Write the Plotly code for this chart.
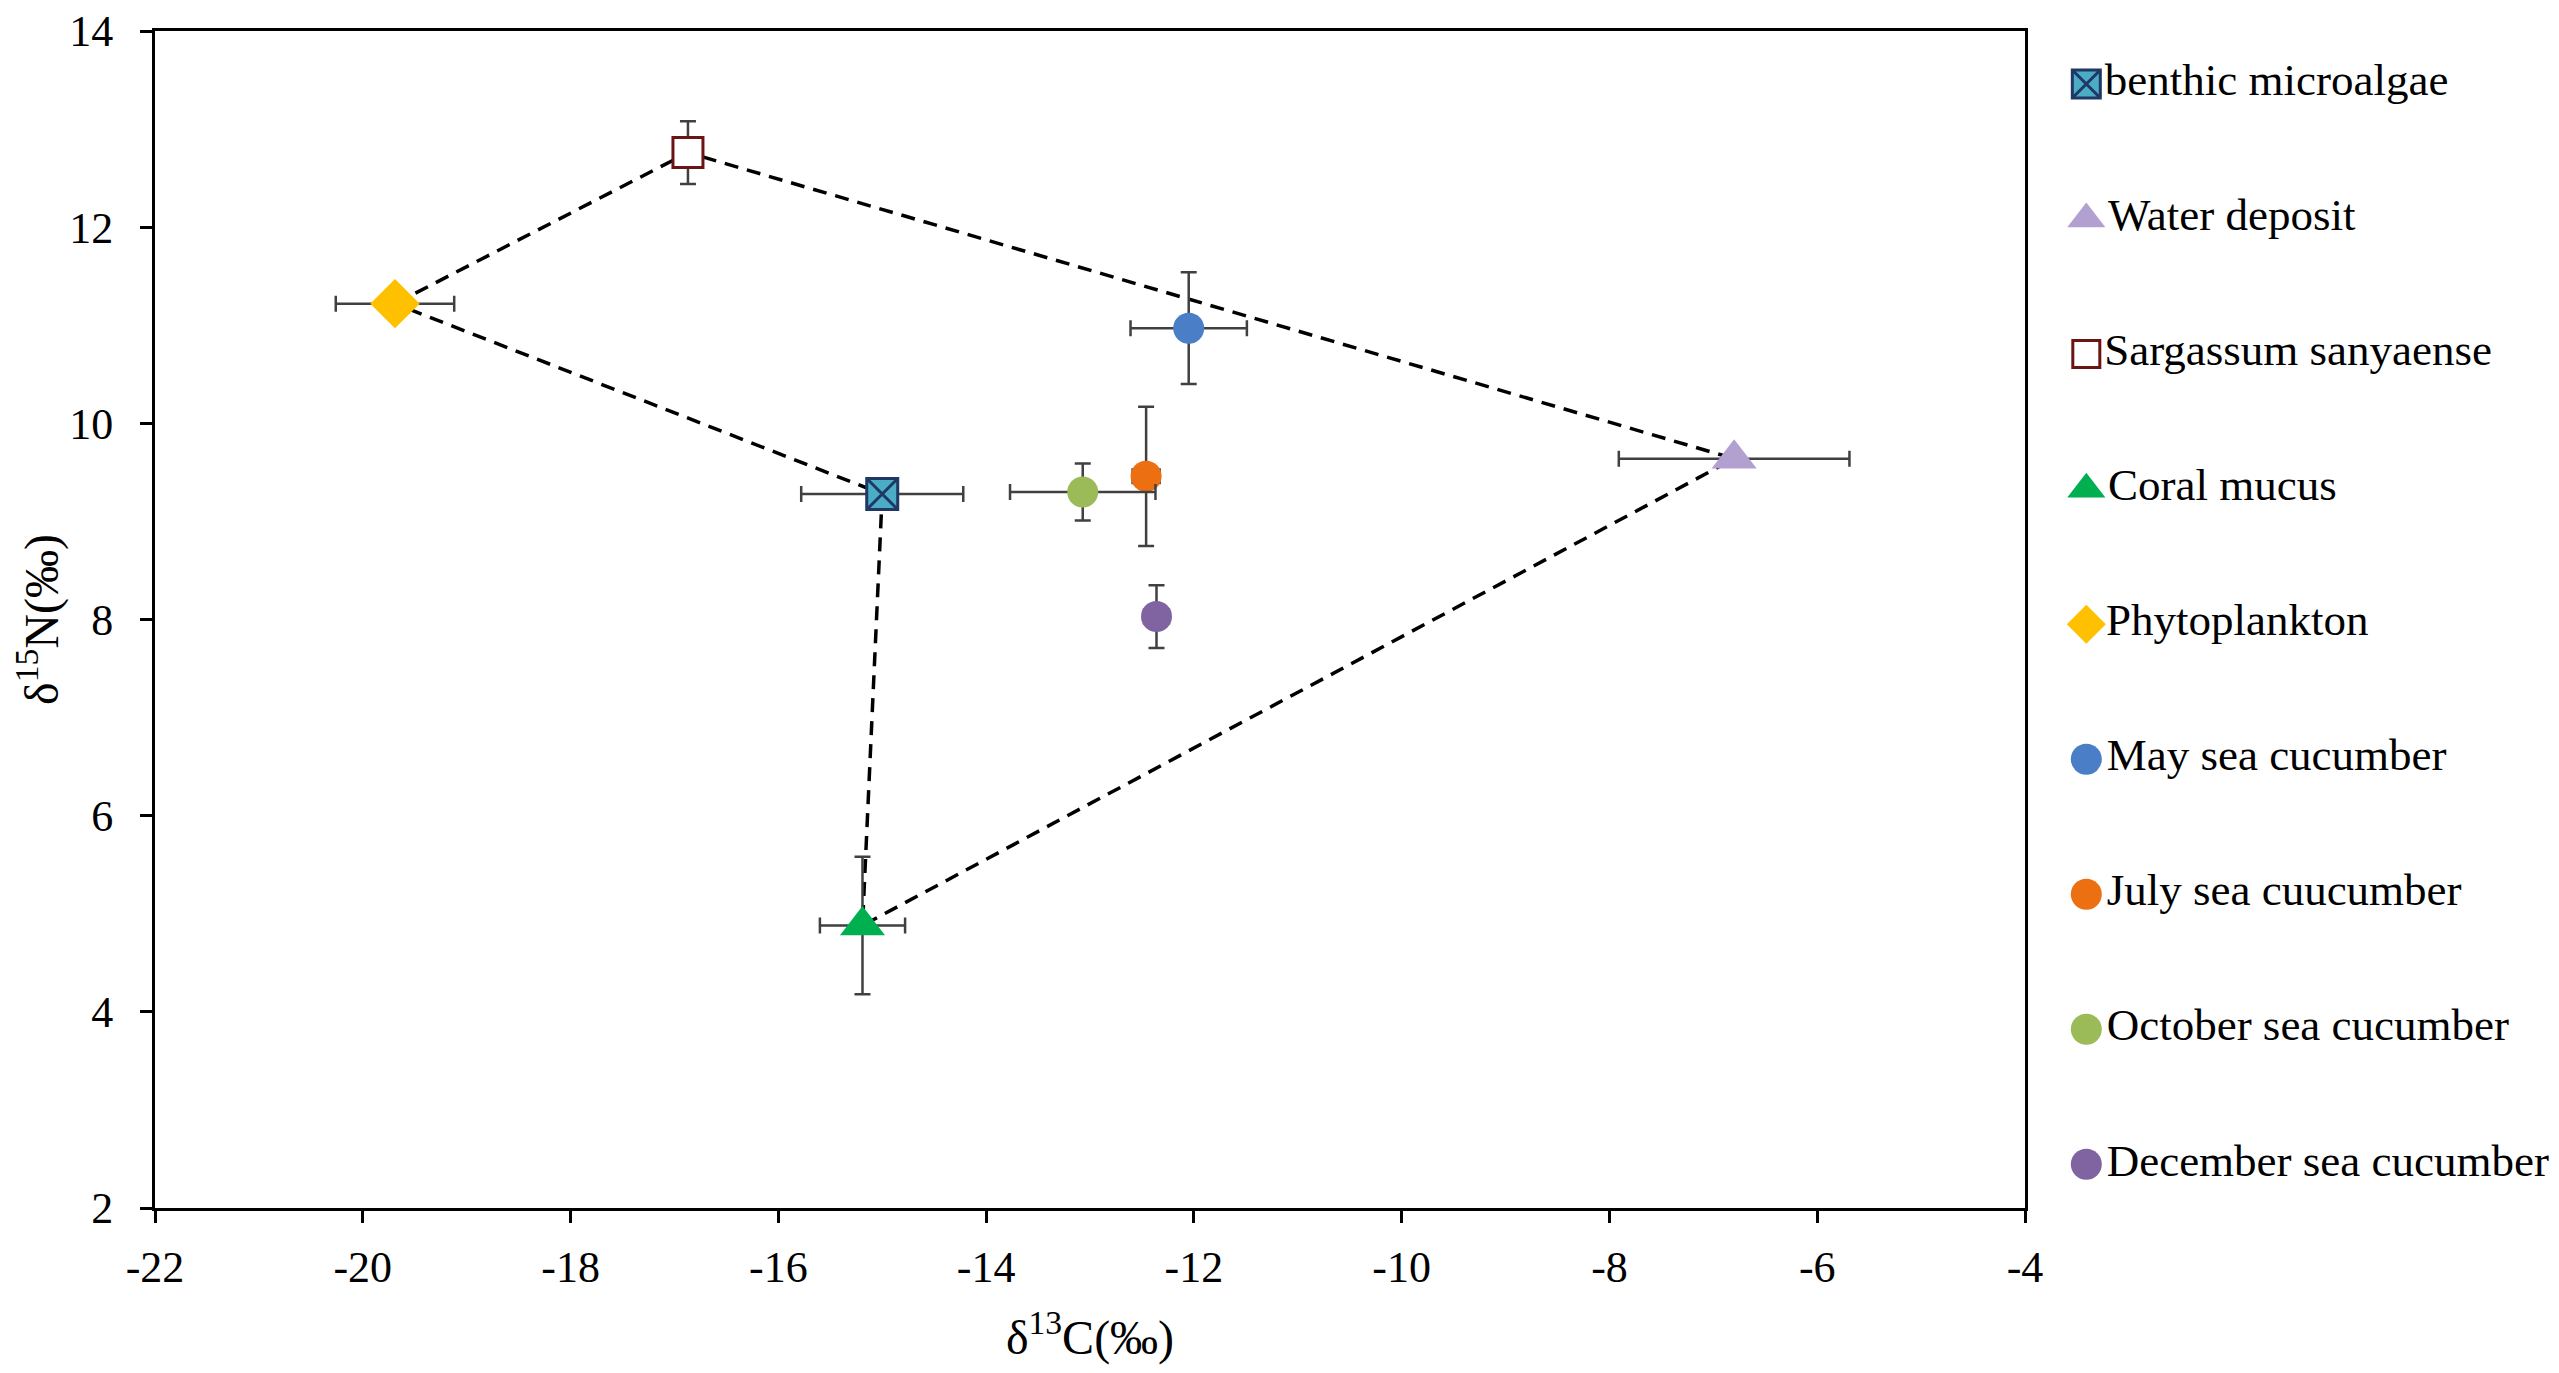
import plotly.graph_objects as go

# isotope means and standard deviations
names = ["benthic microalgae", "Water deposit", "Sargassum sanyaense", "Coral mucus",
         "Phytoplankton", "May sea cucumber", "July sea cuucumber",
         "October sea cucumber", "December sea cucumber"]
d13c = [-15.0, -6.8, -16.87, -15.19, -19.69, -12.05, -12.46, -13.07, -12.36]
d15n = [9.28, 9.64, 12.76, 4.88, 11.22, 10.97, 9.46, 9.30, 8.03]
d13c_sd = [0.78, 1.11, 0.05, 0.41, 0.57, 0.56, 0.13, 0.70, 0.12]
d15n_sd = [0.14, 0.05, 0.32, 0.70, 0.15, 0.57, 0.71, 0.29, 0.32]

# axis ticks (Excel style hyphen minus)
x_ticks = [-22, -20, -18, -16, -14, -12, -10, -8, -6, -4]
x_labels = ["-22", "-20", "-18", "-16", "-14", "-12", "-10", "-8", "-6", "-4"]
y_ticks = [2, 4, 6, 8, 10, 12, 14]
y_labels = ["2", "4", "6", "8", "10", "12", "14"]

# outline of the food sources (dashed polygon)
hull_order = ["Phytoplankton", "Sargassum sanyaense", "Water deposit",
              "Coral mucus", "benthic microalgae", "Phytoplankton"]

FONT = "Liberation Serif, Times New Roman, serif"
ERR_COLOR = "#404040"

styles = {
    "benthic microalgae": dict(symbol="square-x", size=31, color="#4BACC6",
                               line=dict(color="#1F3864", width=3)),
    "Water deposit": dict(symbol="triangle-up", size=39, color="#B1A0D0",
                          line=dict(color="#B1A0D0", width=0)),
    "Sargassum sanyaense": dict(symbol="square", size=30, color="white",
                                line=dict(color="#6B1414", width=3)),
    "Coral mucus": dict(symbol="triangle-up", size=39, color="#00B050",
                        line=dict(color="#00B050", width=0)),
    "Phytoplankton": dict(symbol="diamond", size=38, color="#FFC000",
                          line=dict(color="#FFC000", width=0)),
    "May sea cucumber": dict(symbol="circle", size=31, color="#4A7EC6",
                             line=dict(width=0)),
    "July sea cuucumber": dict(symbol="circle", size=31, color="#EC6F12",
                               line=dict(width=0)),
    "October sea cucumber": dict(symbol="circle", size=31, color="#9BBB59",
                                 line=dict(width=0)),
    "December sea cucumber": dict(symbol="circle", size=31, color="#8064A2",
                                  line=dict(width=0)),
}
# legend symbols are drawn a bit smaller than the plotted ones
legend_sizes = {"benthic microalgae": 28, "Water deposit": 33,
                "Sargassum sanyaense": 27, "Coral mucus": 33, "Phytoplankton": 30}

fig = go.Figure()

idx = [names.index(n) for n in hull_order]
fig.add_trace(go.Scatter(
    x=[d13c[i] for i in idx], y=[d15n[i] for i in idx],
    mode="lines", line=dict(color="black", width=3.5, dash="14px,9px"),
    showlegend=False, hoverinfo="skip"))

for i, name in enumerate(names):
    fig.add_trace(go.Scatter(
        x=[d13c[i]], y=[d15n[i]], name=name, mode="markers",
        marker=styles[name],
        error_x=dict(type="data", array=[d13c_sd[i]], color=ERR_COLOR,
                     thickness=2.5, width=8),
        error_y=dict(type="data", array=[d15n_sd[i]], color=ERR_COLOR,
                     thickness=2.5, width=8),
    ))

# Excel-like legend with full size markers, drawn on a helper axis pair
for i, name in enumerate(names):
    mk = dict(styles[name])
    mk["size"] = legend_sizes.get(name, mk["size"])
    fig.add_trace(go.Scatter(
        x=[0.051], y=[i], xaxis="x2", yaxis="y2",
        mode="markers+text", text=[name], textposition="middle right",
        textfont=dict(family=FONT, size=45, color="black"),
        marker=mk, cliponaxis=False, hoverinfo="skip"))

axis_common = dict(
    showline=True, linecolor="black", linewidth=3, mirror=True,
    ticks="outside", ticklen=12, tickwidth=3, tickcolor="black",
    showgrid=False, zeroline=False, ticklabeloverflow="allow",
    automargin=False,
    tickfont=dict(family=FONT, size=44, color="black"),
)

fig.update_layout(
    width=2559, height=1373,
    margin=dict(l=147, r=0, t=23, b=173),
    plot_bgcolor="white", paper_bgcolor="white",
    font=dict(family=FONT, color="black"),
    showlegend=False,
    xaxis=dict(domain=[0, 0.7753], range=[-22, -4],
               tickvals=x_ticks, ticktext=x_labels, ticklabelstandoff=6,
               title=dict(text="δ<sup>13</sup>C(‰)", standoff=30,
                          font=dict(family=FONT, size=48, color="black")),
               **axis_common),
    yaxis=dict(range=[2, 14], tickvals=y_ticks, ticktext=y_labels,
               ticklabelstandoff=18,
               title=dict(text="δ<sup>15</sup>N(‰)", standoff=8,
                          font=dict(family=FONT, size=48, color="black")),
               **axis_common),
    xaxis2=dict(domain=[0.79, 1.0], range=[0, 1], visible=False,
                anchor="y2", fixedrange=True),
    yaxis2=dict(domain=[0, 1], range=[8.324, -0.393], visible=False,
                anchor="x2", fixedrange=True),
)

fig.write_html("out.html")
